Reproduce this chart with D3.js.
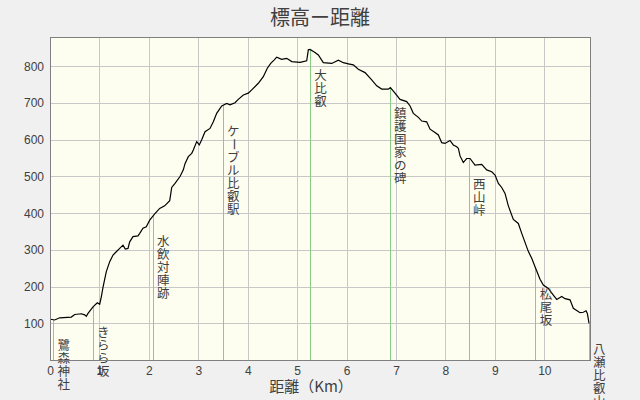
<!DOCTYPE html>
<html><head><meta charset="utf-8">
<script src="https://cdn.jsdelivr.net/npm/d3@7"></script>
<style>body{margin:0;background:#f0f0f0;} svg{display:block}</style>
</head><body><svg id="c" width="640" height="400"></svg>
<script>
const distKm = [0.014,0.095,0.196,0.431,0.50,0.633,0.702,0.734,0.769,0.870,0.957,1.005,1.038,1.072,1.139,1.208,1.275,1.341,1.410,1.477,1.523,1.578,1.612,1.679,1.780,1.815,1.881,1.948,2.017,2.118,2.219,2.320,2.422,2.462,2.529,2.630,2.697,2.731,2.798,2.867,2.899,2.968,3.020,3.069,3.136,3.237,3.304,3.372,3.474,3.575,3.641,3.743,3.809,3.911,4.012,4.081,4.214,4.315,4.396,4.465,4.532,4.586,4.687,4.789,4.890,5.058,5.193,5.226,5.260,5.361,5.428,5.529,5.699,5.833,5.934,6.035,6.136,6.237,6.373,6.508,6.609,6.711,6.844,6.885,6.980,7.081,7.216,7.284,7.350,7.452,7.520,7.620,7.688,7.789,7.856,7.924,7.991,8.092,8.159,8.228,8.260,8.295,8.361,8.429,8.497,8.598,8.733,8.834,8.936,9.003,9.070,9.138,9.205,9.272,9.373,9.474,9.543,9.676,9.745,9.812,9.913,9.980,10.081,10.182,10.251,10.352,10.419,10.520,10.587,10.722,10.789,10.844,10.870,10.905];
const elevM = [111,109,115,117,124,126,123,119,127,145,156,152,172,198,241,268,286,295,304,313,302,304,322,336,338,345,359,363,381,398,413,420,434,470,481,500,518,535,554,563,572,595,586,600,622,631,649,672,692,699,695,701,710,722,727,736,754,772,795,808,817,825,819,822,813,811,815,845,846,838,831,810,808,817,810,807,804,792,783,763,747,738,738,742,727,710,704,692,672,661,651,649,629,620,613,592,590,598,586,581,577,556,538,549,549,531,533,518,513,504,481,470,454,420,383,372,345,296,277,254,220,204,195,177,165,173,167,164,141,129,130,134,127,100];
const landmarkNames = ["鷺森神社","きらら坂","水飲対陣跡","ケーブル比叡駅","大比叡","鎮護国家の碑","西山峠","松尾坂","八瀬比叡山口"];
const landmarkKm = [0.075,0.876,2.09,3.506,5.27,6.885,8.48,9.83,10.91];
const yTicks = [100,200,300,400,500,600,700,800];
const xTicks = [0,1,2,3,4,5,6,7,8,9,10];
const titleText = "標高ー距離";
const xTitle = "距離（Km）";

const svg = d3.select("#c");
const L=50, R=590.3, T=37, B=360;
const x = d3.scaleLinear().domain([0,10.93]).range([L,R]);
const y = d3.scaleLinear().domain([0,880]).range([B,T]);
const textCol = "#404040";
const font = "'Liberation Sans', Arial, sans-serif";
const jfont = "'Noto Sans CJK JP', sans-serif";

svg.append("rect").attr("x",L).attr("y",T).attr("width",R-L).attr("height",B-T).attr("fill","#fefef0");

// grid
const gy = svg.append("g").attr("transform",`translate(${L},0)`)
  .call(d3.axisLeft(y).tickValues(yTicks).tickSize(-(R-L)).tickFormat(""));
gy.select(".domain").remove();
gy.selectAll("line").attr("stroke","#c8c8c8").attr("shape-rendering","crispEdges");
const gx = svg.append("g").attr("transform",`translate(0,${B})`)
  .call(d3.axisBottom(x).tickValues(xTicks.filter(d=>d>0)).tickSize(-(B-T)).tickFormat(""));
gx.select(".domain").remove();
gx.selectAll("line").attr("stroke","#c8c8c8").attr("shape-rendering","crispEdges");

// elevation lookup
function elevAt(k){
  const n = distKm.length;
  const i = d3.bisectLeft(distKm,k);
  if(i<=0) return elevM[0];
  if(i>=n) return elevM[n-1];
  const t=(k-distKm[i-1])/(distKm[i]-distKm[i-1]);
  return elevM[i-1]+t*(elevM[i]-elevM[i-1]);
}

// landmark lines
landmarkKm.forEach(k=>{
  svg.append("line").attr("x1",x(k)).attr("x2",x(k)).attr("y1",y(elevAt(k))).attr("y2",y(0))
    .attr("stroke","#88cc88").attr("stroke-width",1).attr("shape-rendering","crispEdges");
});

// profile
const pts = distKm.map((d,i)=>[d,elevM[i]]);
svg.append("path").datum(pts)
  .attr("d",d3.line().x(d=>x(d[0])).y(d=>y(d[1])))
  .attr("fill","none").attr("stroke","#000").attr("stroke-width",1.2);

// landmark labels (stacked characters)
landmarkNames.forEach((name,j)=>{
  const k = landmarkKm[j];
  const cx = x(k)+10;
  const top = y(elevAt(k))+20;
  Array.from(name).forEach((ch,i)=>{
    const base = top + i*13 + 10.5;
    const t = svg.append("text").attr("x",cx).attr("y",base).attr("text-anchor","middle")
      .attr("font-family",jfont).attr("font-size",12.5).attr("fill",textCol).text(ch);
    if(ch==="ー") t.attr("transform",`rotate(90,${cx},${base-4.5})`);
  });
});

// frame
svg.append("rect").attr("x",L).attr("y",T).attr("width",R-L).attr("height",B-T)
  .attr("fill","none").attr("stroke","#808080").attr("shape-rendering","crispEdges");

// axis labels
const ay = svg.append("g").attr("transform",`translate(${L},0)`)
  .call(d3.axisLeft(y).tickValues(yTicks).tickSize(0).tickPadding(6));
ay.select(".domain").remove();
ay.selectAll("text").attr("font-family",font).attr("font-size",12).attr("fill",textCol);
const ax = svg.append("g").attr("transform",`translate(0,${B})`)
  .call(d3.axisBottom(x).tickValues(xTicks).tickSize(0).tickPadding(6));
ax.select(".domain").remove();
ax.selectAll("text").attr("font-family",font).attr("font-size",12).attr("fill",textCol);

svg.append("text").attr("x",320).attr("y",25).attr("text-anchor","middle")
  .attr("font-family",jfont).attr("font-size",20).attr("fill",textCol).text(titleText);
svg.append("text").attr("x",311).attr("y",392).attr("text-anchor","middle")
  .attr("font-family",jfont).attr("font-size",15).attr("fill",textCol).text(xTitle);
</script></body></html>
